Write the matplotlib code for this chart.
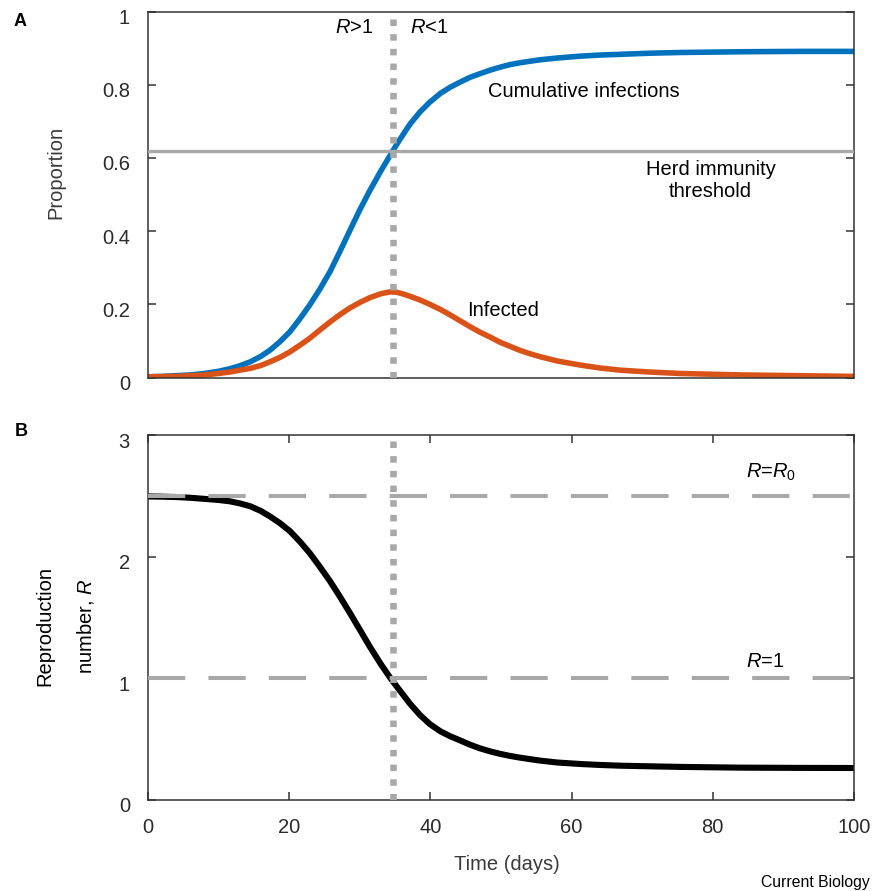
import matplotlib
matplotlib.use("Agg")
import matplotlib.pyplot as plt
import matplotlib.transforms as mtransforms

plt.rcParams['font.family'] = ['Liberation Sans', 'DejaVu Sans']
plt.rcParams['mathtext.fontset'] = 'custom'
plt.rcParams['mathtext.rm'] = 'Liberation Sans'
plt.rcParams['mathtext.it'] = 'Liberation Sans:italic'

# ---- data ----
days = [0, 2, 4, 6, 8, 10, 11.6, 13, 14.5, 16, 17.3, 18.7, 20.1, 21.5, 22.9, 24.3,
        25.8, 27.2, 28.6, 30, 31.4, 33, 34.3, 35.2, 36, 37.1, 38.5, 39.9, 41.4, 42.8,
        44.2, 45.6, 47, 48.5, 49.9, 51.3, 52.7, 54.1, 55.5, 58, 61.2, 64, 66.9, 71,
        75.4, 83.9, 92, 100]
cumulative = [0.002, 0.003, 0.005, 0.007, 0.011, 0.017, 0.024, 0.032, 0.043, 0.058,
              0.075, 0.098, 0.125, 0.160, 0.198, 0.240, 0.290, 0.345, 0.402, 0.458,
              0.510, 0.565, 0.607, 0.636, 0.660, 0.692, 0.725, 0.752, 0.776, 0.793,
              0.807, 0.820, 0.830, 0.840, 0.848, 0.855, 0.860, 0.864, 0.868, 0.873,
              0.878, 0.881, 0.883, 0.886, 0.888, 0.890, 0.891, 0.891]
infected = [0.002, 0.0025, 0.003, 0.005, 0.007, 0.011, 0.015, 0.020, 0.025, 0.033,
            0.043, 0.055, 0.070, 0.088, 0.107, 0.129, 0.152, 0.172, 0.190, 0.205,
            0.218, 0.229, 0.234, 0.233, 0.229, 0.222, 0.212, 0.200, 0.186, 0.171,
            0.155, 0.139, 0.124, 0.110, 0.096, 0.085, 0.074, 0.065, 0.057, 0.045,
            0.034, 0.026, 0.020, 0.015, 0.011, 0.007, 0.005, 0.003]
repro = [2.495, 2.493, 2.490, 2.484, 2.475, 2.466, 2.455, 2.438, 2.414, 2.375,
         2.330, 2.275, 2.210, 2.125, 2.030, 1.920, 1.797, 1.670, 1.537, 1.400,
         1.262, 1.115, 1.005, 0.935, 0.875, 0.792, 0.700, 0.625, 0.565, 0.524,
         0.490, 0.455, 0.425, 0.399, 0.379, 0.362, 0.348, 0.336, 0.324, 0.308,
         0.296, 0.288, 0.282, 0.277, 0.272, 0.266, 0.264, 0.263]
herd_threshold = 0.62
R0 = 2.5
R_one = 1
turn_day = 34.7
x_ticks = [0, 20, 40, 60, 80, 100]
top_yticks = [0, 0.2, 0.4, 0.6, 0.8, 1]
top_ylabels = ['0', '0.2', '0.4', '0.6', '0.8', '1']
bot_yticks = [0, 1, 2, 3]

BLUE = '#0072BD'
ORANGE = '#D95319'
GREY = '#A8A8A8'
SPINE = '#333333'
TICKC = '#2b2b2b'
FS = 14.5

W, H = 880, 891
fig = plt.figure(figsize=(W / 100, H / 100), dpi=100)

def px_axes(x0, y0, x1, y1):
    return fig.add_axes([x0 / W, 1 - y1 / H, (x1 - x0) / W, (y1 - y0) / H])

ax1 = px_axes(148, 11.5, 854, 377.5)
ax2 = px_axes(148, 435, 854, 800)

# ---- panel A ----
ax1.plot(days, cumulative, color=BLUE, lw=4.0, solid_capstyle='butt',
         solid_joinstyle='round', zorder=2)
ax1.plot(days, infected, color=ORANGE, lw=4.0, solid_capstyle='butt',
         solid_joinstyle='round', zorder=2)
ax1.axhline(herd_threshold, color=GREY, lw=2.4, zorder=3)
ax1.axvline(turn_day, color=GREY, lw=4.7, dashes=(1.0, 1.25), dash_capstyle='butt', zorder=4)
ax1.set_xlim(0, 100)
ax1.set_ylim(0, 1)
ax1.set_xticks([])
ax1.set_yticks(top_yticks)
ax1.set_yticklabels(top_ylabels)

ax1.text(31.9, 0.957, r'$\mathit{R}$>1', ha='right', va='center', fontsize=FS)
ax1.text(37.1, 0.957, r'$\mathit{R}$<1', ha='left', va='center', fontsize=FS)
ax1.text(48.2, 0.782, 'Cumulative infections', ha='left', va='center', fontsize=FS)
ax1.text(79.7, 0.539, 'Herd immunity\nthreshold', ha='center', va='center',
         fontsize=FS, linespacing=1.2)
ax1.text(45.2, 0.184, 'Infected', ha='left', va='center', fontsize=FS)

# ---- panel B ----
ax2.plot(days, repro, color='black', lw=4.4, solid_capstyle='butt',
         solid_joinstyle='round', zorder=2)
ax2.axhline(R0, color=GREY, lw=2.9, dashes=(9.25, 5.75), dash_capstyle='butt', zorder=3)
ax2.axhline(R_one, color=GREY, lw=2.9, dashes=(9.25, 5.75), dash_capstyle='butt', zorder=3)
ax2.axvline(turn_day, color=GREY, lw=4.7, dashes=(1.0, 1.25), dash_capstyle='butt', zorder=4)
ax2.set_xlim(0, 100)
ax2.set_ylim(0, 3)
ax2.set_xticks(x_ticks)
ax2.set_yticks(bot_yticks)

ax2.text(84.7, 2.648, r'$\mathit{R}$=$\mathit{R}_{\mathit{0}}$', ha='left', va='baseline', fontsize=FS)
ax2.text(84.7, 1.092, r'$\mathit{R}$=1', ha='left', va='baseline', fontsize=FS)

for ax in (ax1, ax2):
    for s in ax.spines.values():
        s.set_color(SPINE)
        s.set_linewidth(1.1)
    ax.tick_params(direction='in', length=6, width=1.1, color=SPINE,
                   labelsize=FS, labelcolor=TICKC, left=True, right=True)
    ax.tick_params(axis='y', pad=13)
ax2.tick_params(axis='x', top=True, bottom=True, pad=13)

off = mtransforms.ScaledTranslation(0, -5 / 100, fig.dpi_scale_trans)
for ax in (ax1, ax2):
    for lab in ax.get_yticklabels():
        lab.set_transform(lab.get_transform() + off)

# ---- labels ----
def ftext(x, y, s, **kw):
    fig.text(x / W, 1 - y / H, s, **kw)

ftext(56, 172, 'Proportion', rotation=90, ha='center', va='center', fontsize=FS, color='#3a3a3a')
ftext(45, 626, 'Reproduction', rotation=90, ha='center', va='center', fontsize=FS, color='black')
ftext(85, 626, r'number, $\mathit{R}$', rotation=90, ha='center', va='center', fontsize=FS, color='black')
ftext(507, 865, 'Time (days)', ha='center', va='center', fontsize=FS, color='#3a3a3a')
ftext(20, 21, 'A', ha='center', va='center', fontsize=13, fontweight='bold')
ftext(21, 432, 'B', ha='center', va='center', fontsize=13, fontweight='bold')
ftext(870, 883, 'Current Biology', ha='right', va='center', fontsize=11.3, color='black')

fig.savefig('out.png', dpi=100)
